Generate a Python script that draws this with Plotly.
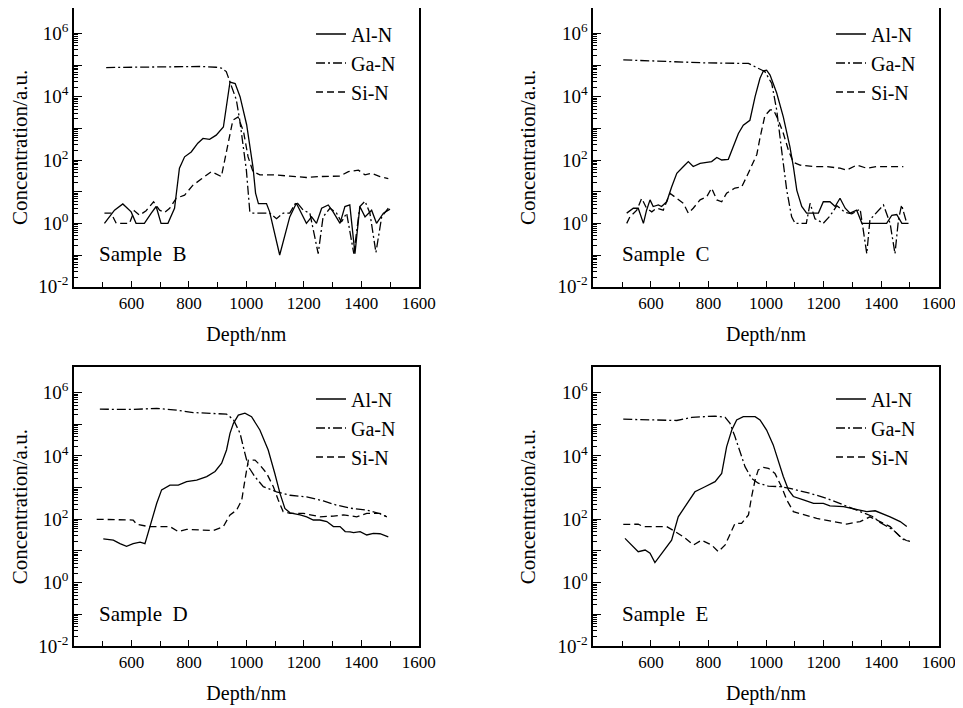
import plotly.graph_objects as go

# ---- Sample B ----
b_al_x = [506, 541, 570, 599, 616, 645, 669, 686, 703, 727, 750, 767, 785, 808, 831, 849, 872, 895, 920, 931,
          943, 961, 978, 1001, 1013, 1023, 1032, 1042, 1070, 1081, 1116, 1151, 1174, 1192, 1209, 1227, 1244,
          1262, 1285, 1302, 1326, 1343, 1360, 1378, 1395, 1413, 1436, 1453, 1477, 1500]
b_al_y = [1.0, 2.6, 4.1, 2.3, 1.0, 1.0, 2.1, 3.4, 1.0, 1.0, 3.0, 55, 126, 180, 340, 480, 450, 610, 1100, 6000,
          29000, 26000, 10000, 1300, 260, 60, 9, 4.2, 4.2, 2.3, 0.1, 1.6, 4.3, 2.1, 1.0, 1.6, 1.0,
          3.0, 3.8, 2.3, 1.0, 3.4, 3.8, 0.11, 3.4, 1.6, 2.6, 1.0, 2.1, 2.8]
b_ga_x = [512, 605, 721, 837, 895, 913, 930, 942, 965, 977, 1000, 1012, 1023, 1081, 1105, 1128, 1151, 1174,
          1198, 1221, 1250, 1267, 1291, 1314, 1331, 1349, 1374, 1395, 1413, 1430, 1451, 1471, 1494]
b_ga_y = [8.3e4, 8.5e4, 9e4, 9e4, 8.5e4, 8e4, 6.2e4, 3e4, 8e3, 1.8e3, 48, 2.3, 2.1, 2.1, 1.4, 2.1, 2.1, 4.8,
          2.6, 2.1, 0.11, 1.6, 3.0, 2.1, 1.1, 2.1, 0.11, 3.4, 5.0, 2.1, 0.12, 1.6, 3.0]
b_si_x = [506, 529, 547, 593, 610, 628, 651, 677, 698, 715, 733, 756, 785, 814, 843, 878, 913, 930, 953, 971,
          990, 1006, 1023, 1047, 1093, 1151, 1209, 1256, 1291, 1326, 1355, 1390, 1413, 1436, 1465, 1494]
b_si_y = [2.1, 2.1, 1.0, 1.0, 2.5, 1.8, 2.5, 4.8, 2.6, 2.2, 3.0, 6.2, 7.8, 16, 25, 43, 30, 160, 1800, 2300,
          800, 125, 43, 34, 34, 31, 28, 30, 31, 31, 43, 48, 34, 38, 30, 26]

# ---- Sample C ----
c_al_x = [516, 539, 556, 574, 585, 597, 608, 626, 637, 655, 672, 690, 713, 730, 747, 771, 788, 811, 829, 846,
          869, 886, 904, 921, 944, 962, 979, 991, 1002, 1014, 1037, 1060, 1083, 1095, 1107, 1124, 1141, 1182,
          1199, 1222, 1240, 1257, 1275, 1292, 1315, 1333, 1361, 1419, 1437, 1454, 1472, 1495]
c_al_y = [2.1, 3.0, 3.0, 1.0, 2.6, 5.5, 3.4, 3.8, 3.4, 4.8, 14, 38, 62, 89, 62, 78, 83, 89, 120, 100,
          105, 260, 690, 1260, 1800, 1e4, 3.8e4, 6.6e4, 6.9e4, 4.8e4, 1.3e4, 2.3e3, 260, 62, 11, 3.4, 2.1, 2.1,
          4.8, 4.8, 3.4, 6.2, 3.0, 2.1, 2.6, 1.0, 1.0, 1.0, 1.8, 1.9, 1.0, 1.0]
c_ga_x = [504, 672, 788, 939, 973, 996, 1020, 1037, 1054, 1072, 1089, 1101, 1140, 1153, 1170, 1199, 1222, 1246,
          1275, 1298, 1327, 1350, 1361, 1385, 1408, 1431, 1448, 1460, 1471, 1489]
c_ga_y = [1.45e5, 1.26e5, 1.17e5, 1.12e5, 8e4, 6.2e4, 2.6e4, 3.8e3, 210, 11, 1.6, 1.0, 1.0, 4.3, 1.4, 1.0, 1.7,
          3.6, 2.2, 2.0, 2.8, 0.11, 1.3, 2.3, 3.8, 1.0, 0.11, 1.3, 3.8, 1.0]
c_si_x = [516, 527, 551, 568, 585, 603, 620, 643, 666, 684, 713, 730, 747, 771, 794, 811, 829, 846, 863, 892,
          915, 933, 950, 968, 979, 996, 1014, 1026, 1043, 1060, 1078, 1095, 1118, 1165, 1211, 1257, 1280, 1315,
          1350, 1385, 1431, 1477]
c_si_y = [1.0, 1.6, 2.6, 6.2, 3.0, 2.3, 3.0, 2.6, 8.9, 6.9, 4.3, 2.1, 3.0, 5.5, 6.9, 13, 5.5, 4.8, 8.9, 13,
          14, 30, 70, 150, 500, 2500, 3800, 3800, 1800, 700, 200, 85, 69, 62, 62, 55, 48, 69,
          55, 62, 62, 62]

# ---- Sample D ----
d_al_x = [502, 537, 560, 583, 606, 630, 647, 665, 688, 705, 734, 763, 792, 827, 862, 891, 914, 931, 943, 955,
          972, 995, 1018, 1047, 1076, 1099, 1117, 1134, 1152, 1187, 1210, 1233, 1256, 1280, 1303, 1326, 1344,
          1361, 1373, 1396, 1419, 1442, 1465, 1494]
d_al_y = [24, 22, 17, 14, 17, 19, 17, 59, 320, 850, 1200, 1200, 1550, 1740, 2240, 3240, 5900, 1.55e4, 5.2e4,
          1.07e5, 1.95e5, 2.24e5, 1.74e5, 6.6e4, 1.55e4, 2800, 660, 220, 160, 138, 120, 95, 95, 85, 59, 59, 41,
          40, 38, 41, 32, 36, 35, 28]
d_ga_x = [490, 607, 688, 757, 815, 862, 931, 955, 978, 995, 1007, 1030, 1059, 1105, 1152, 1210, 1268, 1314,
          1361, 1419, 1465, 1489]
d_ga_y = [3.0e5, 2.95e5, 3.2e5, 2.8e5, 2.35e5, 2.2e5, 2.1e5, 1.4e5, 5.2e4, 1.2e4, 4.6e3, 2.2e3, 1070, 740,
          575, 510, 380, 280, 225, 195, 150, 120]
d_si_x = [479, 606, 618, 659, 734, 763, 792, 839, 885, 920, 943, 966, 984, 995, 1007, 1030, 1047, 1071, 1094,
          1111, 1128, 1152, 1198, 1256, 1303, 1338, 1384, 1419, 1465, 1489]
d_si_y = [100, 95, 70, 59, 59, 41, 48, 46, 44, 59, 138, 195, 410, 1740, 7400, 7400, 5200, 2800, 1070,
          410, 175, 155, 155, 120, 126, 138, 120, 155, 155, 120]

# ---- Sample E ----
e_al_x = [510, 533, 556, 580, 597, 614, 643, 672, 695, 719, 753, 788, 823, 846, 863, 881, 898, 921, 962, 979,
          1002, 1025, 1043, 1060, 1078, 1095, 1130, 1165, 1199, 1222, 1269, 1315, 1350, 1379, 1396, 1431, 1466,
          1489]
e_al_y = [25, 15.5, 9.5, 10.7, 8.5, 4.3, 9.5, 22, 120, 250, 740, 1070, 1550, 2800, 1.95e4, 6.6e4, 1.38e5,
          1.74e5, 1.74e5, 1.38e5, 6.6e4, 2.24e4, 6600, 2240, 850, 525, 410, 320, 320, 265, 250, 210, 175, 186,
          162, 120, 85, 59]
e_ga_x = [504, 626, 690, 742, 823, 858, 875, 892, 910, 927, 950, 973, 1008, 1049, 1083, 1153, 1211, 1269, 1327,
          1373, 1396, 1443, 1477, 1500]
e_ga_y = [1.45e5, 1.38e5, 1.32e5, 1.66e5, 1.82e5, 1.66e5, 1.07e5, 4.1e4, 1.4e4, 4.6e3, 1.95e3, 1.38e3, 1.12e3,
          1070, 950, 660, 460, 280, 175, 120, 80, 45, 23, 20]
e_si_x = [504, 556, 574, 614, 655, 684, 713, 748, 776, 811, 834, 858, 875, 892, 915, 939, 950, 962, 973, 991,
          1008, 1031, 1054, 1072, 1095, 1130, 1176, 1234, 1280, 1327, 1361, 1396, 1431, 1466, 1489]
e_si_y = [69, 70, 59, 59, 59, 41, 28, 15.5, 22, 15.5, 9.5, 15.5, 36, 74, 74, 138, 525, 1740, 3630, 4370,
          4100, 2800, 1070, 410, 175, 138, 107, 85, 71, 85, 120, 85, 59, 28, 21]

species = ["Al-N", "Ga-N", "Si-N"]
samples = ["B", "C", "D", "E"]
x_ticks = [600, 800, 1000, 1200, 1400, 1600]
x_minor = [500, 700, 900, 1100, 1300, 1500]
y_exps = [-2, -1, 0, 1, 2, 3, 4, 5, 6]

data = {
    "B": [(b_al_x, b_al_y), (b_ga_x, b_ga_y), (b_si_x, b_si_y)],
    "C": [(c_al_x, c_al_y), (c_ga_x, c_ga_y), (c_si_x, c_si_y)],
    "D": [(d_al_x, d_al_y), (d_ga_x, d_ga_y), (d_si_x, d_si_y)],
    "E": [(e_al_x, e_al_y), (e_ga_x, e_ga_y), (e_si_x, e_si_y)],
}

dashes = ["solid", "9px,3px,2px,3px", "7px,4px"]
serif = "Liberation Serif"

# the page body adds an 8px margin, so the figure is 8px smaller than the window
W, H = 955, 700
x_doms = [[0.0691, 0.4301], [0.6129, 0.9746]]
y_doms = [[0.6019, 1.0], [0.0886, 0.4867]]
leg_x = [0.3173, 0.8618]
leg_y = [0.9907, 0.4693]
label_x = [480, 492]

y_vals = [10.0 ** e for e in y_exps]
y_text = ["10<sup>%d</sup>" % e if e % 2 == 0 else "" for e in y_exps]
y_minor = [m * 10.0 ** e for e in y_exps[:-1] for m in range(2, 10)]

fig = go.Figure()

for i, s in enumerate(samples):
    n = "" if i == 0 else str(i + 1)
    col, row = i % 2, i // 2
    leg = "legend" + n
    for k, (xs, ys) in enumerate(data[s]):
        fig.add_trace(go.Scatter(
            x=xs, y=ys, mode="lines", name=species[k],
            line=dict(color="black", width=1.3, dash=dashes[k]),
            xaxis="x" + n, yaxis="y" + n, legend=leg,
        ))

    fig.update_layout({
        "xaxis" + n: dict(
            domain=x_doms[col], anchor="y" + n, range=[400, 1600], automargin=False,
            tickvals=x_ticks, ticks="inside", ticklen=6, tickwidth=1.2, tickcolor="black",
            minor=dict(tickvals=x_minor, ticks="inside", ticklen=5, tickwidth=1.2, tickcolor="black"),
            showline=True, mirror=True, linewidth=1.8, linecolor="black",
            showgrid=False, zeroline=False,
            tickfont=dict(family=serif, size=17, color="black"),
            title=dict(text="Depth/nm", font=dict(family=serif, size=20, color="black"), standoff=15),
        ),
        "yaxis" + n: dict(
            domain=y_doms[row], anchor="x" + n, type="log", range=[-2, 6.8], automargin=False,
            tickvals=y_vals, ticktext=y_text, ticks="inside", ticklen=8, tickwidth=1.2, tickcolor="black",
            minor=dict(tickvals=y_minor, ticks="inside", ticklen=4, tickwidth=1, tickcolor="black"),
            showline=True, mirror=True, linewidth=1.8, linecolor="black",
            showgrid=False, zeroline=False,
            tickfont=dict(family=serif, size=19, color="black"),
            title=dict(text="Concentration/a.u.", font=dict(family=serif, size=21, color="black"), standoff=16),
        ),
        leg: dict(
            x=leg_x[col], y=leg_y[row], xanchor="left", yanchor="top",
            bgcolor="rgba(0,0,0,0)", borderwidth=0, tracegroupgap=0,
            font=dict(family=serif, size=20, color="black"),
        ),
    })

    fig.add_annotation(
        x=label_x[col], y=-0.98, xref="x" + n, yref="y" + n, text="Sample  " + s,
        showarrow=False, xanchor="left", yanchor="middle",
        font=dict(family=serif, size=21, color="black"),
    )

fig.update_layout(
    width=W, height=H,
    margin=dict(l=0, r=0, t=0, b=0),
    paper_bgcolor="white", plot_bgcolor="white",
    showlegend=True,
)

fig.write_html("out.html")
